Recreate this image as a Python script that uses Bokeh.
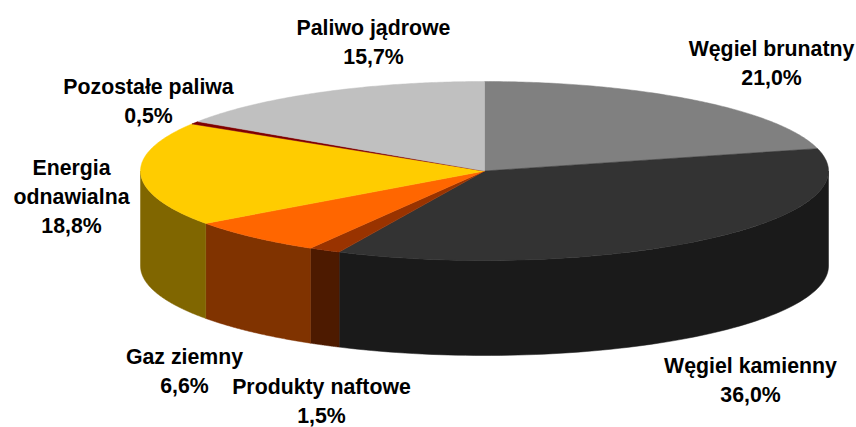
import numpy as np
from bokeh.plotting import figure
from bokeh.embed import file_html
from bokeh.resources import INLINE
from bokeh.core.properties import value

categories = ["Węgiel brunatny", "Węgiel kamienny", "Produkty naftowe", "Gaz ziemny",
              "Energia odnawialna", "Pozostałe paliwa", "Paliwo jądrowe"]
shares = [21.0, 36.0, 1.5, 6.6, 18.8, 0.5, 15.7]
top_colors = ["#808080", "#333333", "#993300", "#FF6600", "#FFCC00", "#800000", "#C0C0C0"]
side_colors = ["#404040", "#1A1A1A", "#4D1A00", "#803300", "#806600", "#400000", "#606060"]

CX, CY, RX, RY, DEPTH = 484.0, 170.5, 344.0, 89.5, 95.0
label_lines = [["Węgiel brunatny"], ["Węgiel kamienny"], ["Produkty naftowe"], ["Gaz ziemny"],
               ["Energia", "odnawialna"], ["Pozostałe paliwa"], ["Paliwo jądrowe"]]
label_x = [771, 750, 321, 184, 71, 148, 373]
label_y = [48, 365, 386, 356, 167, 86, 27]
LINE_H = 29

p = figure(width=856, height=427, x_range=(0, 856), y_range=(427, 0),
           output_backend="svg", toolbar_location=None, min_border=0)
p.axis.visible = False
p.grid.visible = False
p.outline_line_color = None
p.background_fill_color = "white"
p.border_fill_color = "white"


def pt(a):
    return CX + RX * np.sin(a), CY - RY * np.cos(a)


bounds = np.radians(np.concatenate([[0], np.cumsum(shares)]) / sum(shares) * 360)

# walls: only the front half of the rim (90..270 degrees) is visible
for i in range(len(shares)):
    a0 = max(bounds[i], np.pi / 2)
    a1 = min(bounds[i + 1], 3 * np.pi / 2)
    if a1 <= a0:
        continue
    t = np.linspace(a0, a1, 80)
    x, y = pt(t)
    xs = np.concatenate([x, x[::-1]])
    ys = np.concatenate([y, y[::-1] + DEPTH])
    p.patch(xs, ys, fill_color=side_colors[i], line_color=side_colors[i], line_width=0.5)

# tops
for i in range(len(shares)):
    t = np.linspace(bounds[i], bounds[i + 1], 120)
    x, y = pt(t)
    p.patch(np.concatenate([[CX], x]), np.concatenate([[CY], y]),
            fill_color=top_colors[i], line_color=top_colors[i], line_width=0.5)

# labels
tx, ty, tt = [], [], []
for lines, lx, ly, s in zip(label_lines, label_x, label_y, shares):
    rows = lines + [f"{s:.1f}".replace(".", ",") + "%"]
    for k, r in enumerate(rows):
        tx.append(lx)
        ty.append(ly + k * LINE_H)
        tt.append(r)
p.text(tx, ty, text=tt, text_font=value("Liberation Sans"), text_font_style="bold",
       text_font_size="21.3px", text_color="black", text_align="center", text_baseline="alphabetic")

open("out.html", "w").write(file_html(p, INLINE))
